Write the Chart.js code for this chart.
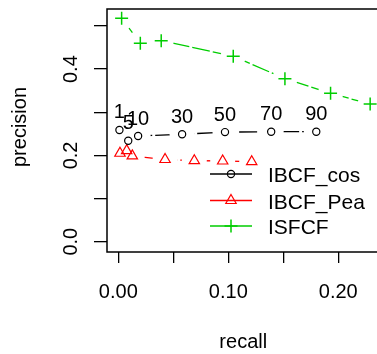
<!DOCTYPE html>
<html><head><meta charset="utf-8">
<script src="https://cdn.jsdelivr.net/npm/chart.js@4"></script>
<style>html,body{margin:0;padding:0;background:#fff;overflow:hidden;width:377px;height:354px}#w{width:377px;height:354px;overflow:hidden;position:relative}canvas{display:block;position:absolute;left:0;top:0;width:381px;height:354px}</style>
</head><body>
<div id="w"><canvas id="c" width="381" height="354" style="width:381px;height:354px"></canvas></div>
<script>
// ---- data ----
const seriesNames = ['IBCF_cos', 'IBCF_Pea', 'ISFCF'];
const cosRecall    = [0.001, 0.009, 0.018, 0.058, 0.097, 0.139, 0.180];
const cosPrecision = [0.259, 0.234, 0.245, 0.249, 0.254, 0.255, 0.255];
const peaRecall    = [0.0015, 0.0076, 0.0127, 0.0425, 0.0691, 0.0949, 0.1213];
const peaPrecision = [0.205, 0.211, 0.199, 0.1905, 0.1878, 0.1871, 0.1854];
const isRecall     = [0.003, 0.020, 0.039, 0.1045, 0.1515, 0.193, 0.229];
const isPrecision  = [0.518, 0.460, 0.466, 0.430, 0.378, 0.344, 0.319];
const pointLabels  = ['1', '5', '10', '30', '50', '70', '90'];
const xTickValues  = [0, 0.05, 0.10, 0.15, 0.20];
const xTickLabels  = ['0.00', '', '0.10', '', '0.20'];
const yTickValues  = [0, 0.1, 0.2, 0.3, 0.4, 0.5];
const yTickLabels  = ['0.0', '', '0.2', '', '0.4', ''];
const xTitle = 'recall';
const yTitle = 'precision';

const FONT = '"Liberation Sans", Arial, sans-serif';
const colors = ['#000000', '#FF0000', '#00CD00'];
const styles = ['circle', 'triangle', 'cross'];
const radii = [3.6, 6, 6.5];
const recalls = [cosRecall, peaRecall, isRecall];
const precs = [cosPrecision, peaPrecision, isPrecision];

const datasets = [];
seriesNames.forEach((name, i) => {
  const pts = recalls[i].map((x, k) => ({x: x, y: precs[i][k]}));
  datasets.push({
    label: name + '_line', data: pts, isLine: true, showLine: true,
    borderColor: colors[i], borderWidth: 1.3, borderDash: [18, 3],
    pointRadius: 0, order: 10, fill: false, tension: 0
  });
  datasets.push({
    label: name, data: pts, showLine: false,
    pointStyle: styles[i], pointRadius: radii[i],
    pointBorderColor: colors[i], pointBackgroundColor: 'rgba(0,0,0,0)',
    pointBorderWidth: i === 2 ? 1.5 : 1.2, order: 0
  });
});

const rPlugin = {
  id: 'rstyle',
  afterDatasetDraw(chart, args) {
    const ds = chart.data.datasets[args.index];
    if (!ds.isLine) return;
    const ctx = chart.ctx, a = chart.chartArea;
    ctx.save();
    ctx.beginPath(); ctx.rect(a.left, a.top, a.right - a.left, a.bottom - a.top); ctx.clip();
    ctx.globalCompositeOperation = 'destination-out';
    args.meta.data.forEach(p => { ctx.beginPath(); ctx.arc(p.x, p.y, 12.5, 0, Math.PI * 2); ctx.fill(); });
    ctx.restore();
  },
  afterDraw(chart) {
    const ctx = chart.ctx, a = chart.chartArea;
    const ys = chart.scales.y;
    ctx.save();
    // box
    ctx.strokeStyle = '#000'; ctx.lineWidth = 1.5;
    ctx.strokeRect(a.left, a.top, a.right - a.left, a.bottom - a.top);
    // y tick labels (rotated)
    ctx.fillStyle = '#000';
    ctx.font = '20px ' + FONT;
    ctx.textAlign = 'center'; ctx.textBaseline = 'alphabetic';
    yTickValues.forEach((v, k) => {
      if (!yTickLabels[k]) return;
      ctx.save(); ctx.translate(77, ys.getPixelForValue(v)); ctx.rotate(-Math.PI / 2);
      ctx.fillText(yTickLabels[k], 0, 0); ctx.restore();
    });
    // titles
    ctx.save(); ctx.translate(25.5, 127); ctx.rotate(-Math.PI / 2); ctx.fillText(yTitle, 0, 0); ctx.restore();
    ctx.fillText(xTitle, (a.left + a.right) / 2, 348);
    // point labels on first series
    const meta = chart.getDatasetMeta(1);
    meta.data.forEach((p, k) => { ctx.fillText(pointLabels[k], p.x, p.y - 11.5); });
    // legend
    const rows = [174, 200.5, 226];
    seriesNames.forEach((name, i) => {
      const y = rows[i];
      ctx.strokeStyle = colors[i]; ctx.lineWidth = 1.3; ctx.setLineDash([]);
      ctx.beginPath(); ctx.moveTo(210, y); ctx.lineTo(252, y); ctx.stroke();
      ctx.fillStyle = 'rgba(0,0,0,0)';
      ctx.lineWidth = i === 2 ? 1.5 : 1.2;
      Chart.helpers.drawPoint(ctx, {pointStyle: styles[i], radius: radii[i], borderWidth: i === 2 ? 1.5 : 1.2, rotation: 0}, 231, y);
      ctx.fillStyle = '#000'; ctx.font = '21px ' + FONT; ctx.textAlign = 'left';
      ctx.fillText(name, 268, y + 8);
    });
    ctx.restore();
  }
};

const zeroPad = s => { s.paddingLeft = 0; s.paddingRight = 0; s.paddingTop = 0; s.paddingBottom = 0; };

new Chart(document.getElementById('c'), {
  type: 'scatter',
  data: {datasets: datasets},
  options: {
    responsive: false, animation: false, devicePixelRatio: 1,
    layout: {autoPadding: false, padding: {top: 9, right: 1.5, left: 0, bottom: 0}},
    plugins: {legend: {display: false}, tooltip: {enabled: false}},
    scales: {
      x: {
        type: 'linear', min: -0.0103, max: 0.2375,
        afterBuildTicks: s => { s.ticks = xTickValues.map(v => ({value: v})); },
        afterFit: s => { s.height = 102; zeroPad(s); },
        grid: {drawOnChartArea: false, drawTicks: true, tickLength: 11, color: '#000', lineWidth: 1.3},
        border: {display: false},
        ticks: {autoSkip: false, maxRotation: 0, minRotation: 0, padding: 17, color: '#000',
          font: {family: FONT, size: 20},
          callback: (v, k) => xTickLabels[k]}
      },
      y: {
        type: 'linear', min: -0.0239, max: 0.5394,
        afterBuildTicks: s => { s.ticks = yTickValues.map(v => ({value: v})); },
        afterFit: s => { s.width = 107; zeroPad(s); },
        grid: {drawOnChartArea: false, drawTicks: true, tickLength: 13, color: '#000', lineWidth: 1.3},
        border: {display: false},
        ticks: {display: false, padding: 0}
      }
    }
  },
  plugins: [rPlugin]
});
</script>
</body></html>
